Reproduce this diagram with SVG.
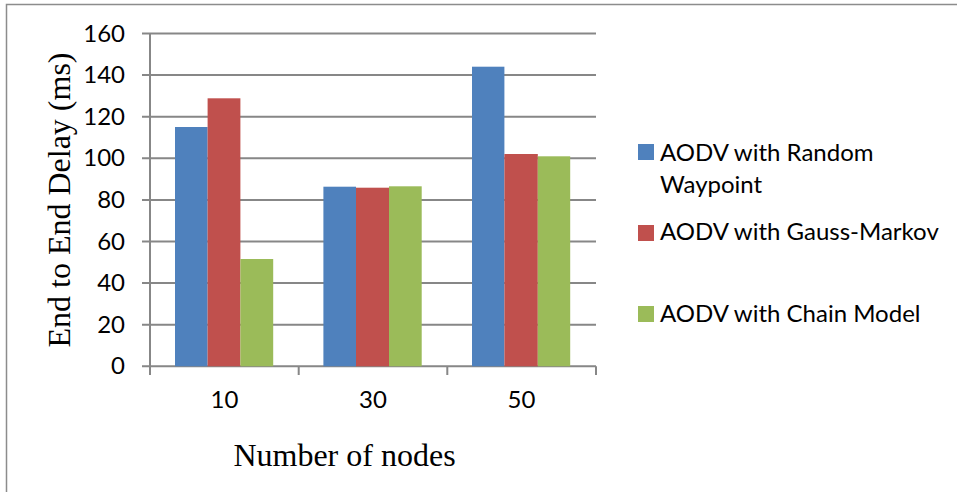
<svg xmlns="http://www.w3.org/2000/svg" width="957" height="492" viewBox="0 0 957 492">
<style>
.grid{stroke:#878787;stroke-width:2;fill:none}
.frame{stroke:#8c8c8c;stroke-width:1.5;fill:none}
.tick{font-family:Lato,"Open Sans",sans-serif;font-size:24px;fill:#000}
.ser{font-family:"Liberation Serif","Times New Roman",serif;font-size:32px;fill:#000}
.leg{font-family:Lato,"Open Sans",sans-serif;font-size:24px;fill:#000}
.b{fill:#4F81BD}.r{fill:#C0504D}.g{fill:#9BBB59}
</style>
<rect width="957" height="492" fill="#fff"/>
<path class="frame" d="M6.5,492 V4.5 H957"/>
<g id="gridlines">
<path class="grid" d="M142,33.5H596M142,75.1H596M142,116.7H596M142,158.3H596M142,199.9H596M142,241.5H596M142,283.1H596M142,324.7H596"/>
</g>
<g id="axes">
<path class="grid" d="M150,33.5V375M142,366.3H596M298.7,366.3V375M447.3,366.3V375M596,366.3V375"/>
</g>
<g id="y-labels" class="tick" text-anchor="end">
<text x="125" y="41.5">160</text>
<text x="125" y="83.1">140</text>
<text x="125" y="124.7">120</text>
<text x="125" y="166.3">100</text>
<text x="125" y="207.9">80</text>
<text x="125" y="249.5">60</text>
<text x="125" y="291.1">40</text>
<text x="125" y="332.7">20</text>
<text x="125" y="374.3">0</text>
</g>
<g id="bars">
<rect class="b" x="175" y="127" width="32.6" height="239.3"/>
<rect class="r" x="207.6" y="98.3" width="32.8" height="268"/>
<rect class="g" x="240.4" y="259" width="32.8" height="107.3"/>
<rect class="b" x="323.4" y="186.7" width="32.6" height="179.6"/>
<rect class="r" x="356" y="187.7" width="33" height="178.6"/>
<rect class="g" x="389" y="186.3" width="32.7" height="180"/>
<rect class="b" x="472" y="66.7" width="32.4" height="299.6"/>
<rect class="r" x="504.4" y="154" width="33.4" height="212.3"/>
<rect class="g" x="537.8" y="156.3" width="32.4" height="210"/>
</g>
<g id="x-labels" class="tick" text-anchor="middle">
<text x="224.5" y="408">10</text>
<text x="373" y="408">30</text>
<text x="521.5" y="408">50</text>
</g>
<g id="x-title"><text class="ser" x="344.5" y="466" text-anchor="middle">Number of nodes</text></g>
<g id="y-title"><text class="ser" transform="translate(70,200) rotate(-90)" text-anchor="middle">End to End Delay (ms)</text></g>
<g id="legend">
<g id="leg-random"><rect class="b" x="638" y="144" width="16" height="16"/><text class="leg" x="660" y="161">AODV with Random</text><text class="leg" x="660" y="193">Waypoint</text></g>
<g id="leg-gauss"><rect class="r" x="638" y="225" width="16" height="16"/><text class="leg" x="660" y="240">AODV with Gauss-Markov</text></g>
<g id="leg-chain"><rect class="g" x="638" y="306" width="16" height="16"/><text class="leg" x="660" y="321.5">AODV with Chain Model</text></g>
</g>
</svg>
